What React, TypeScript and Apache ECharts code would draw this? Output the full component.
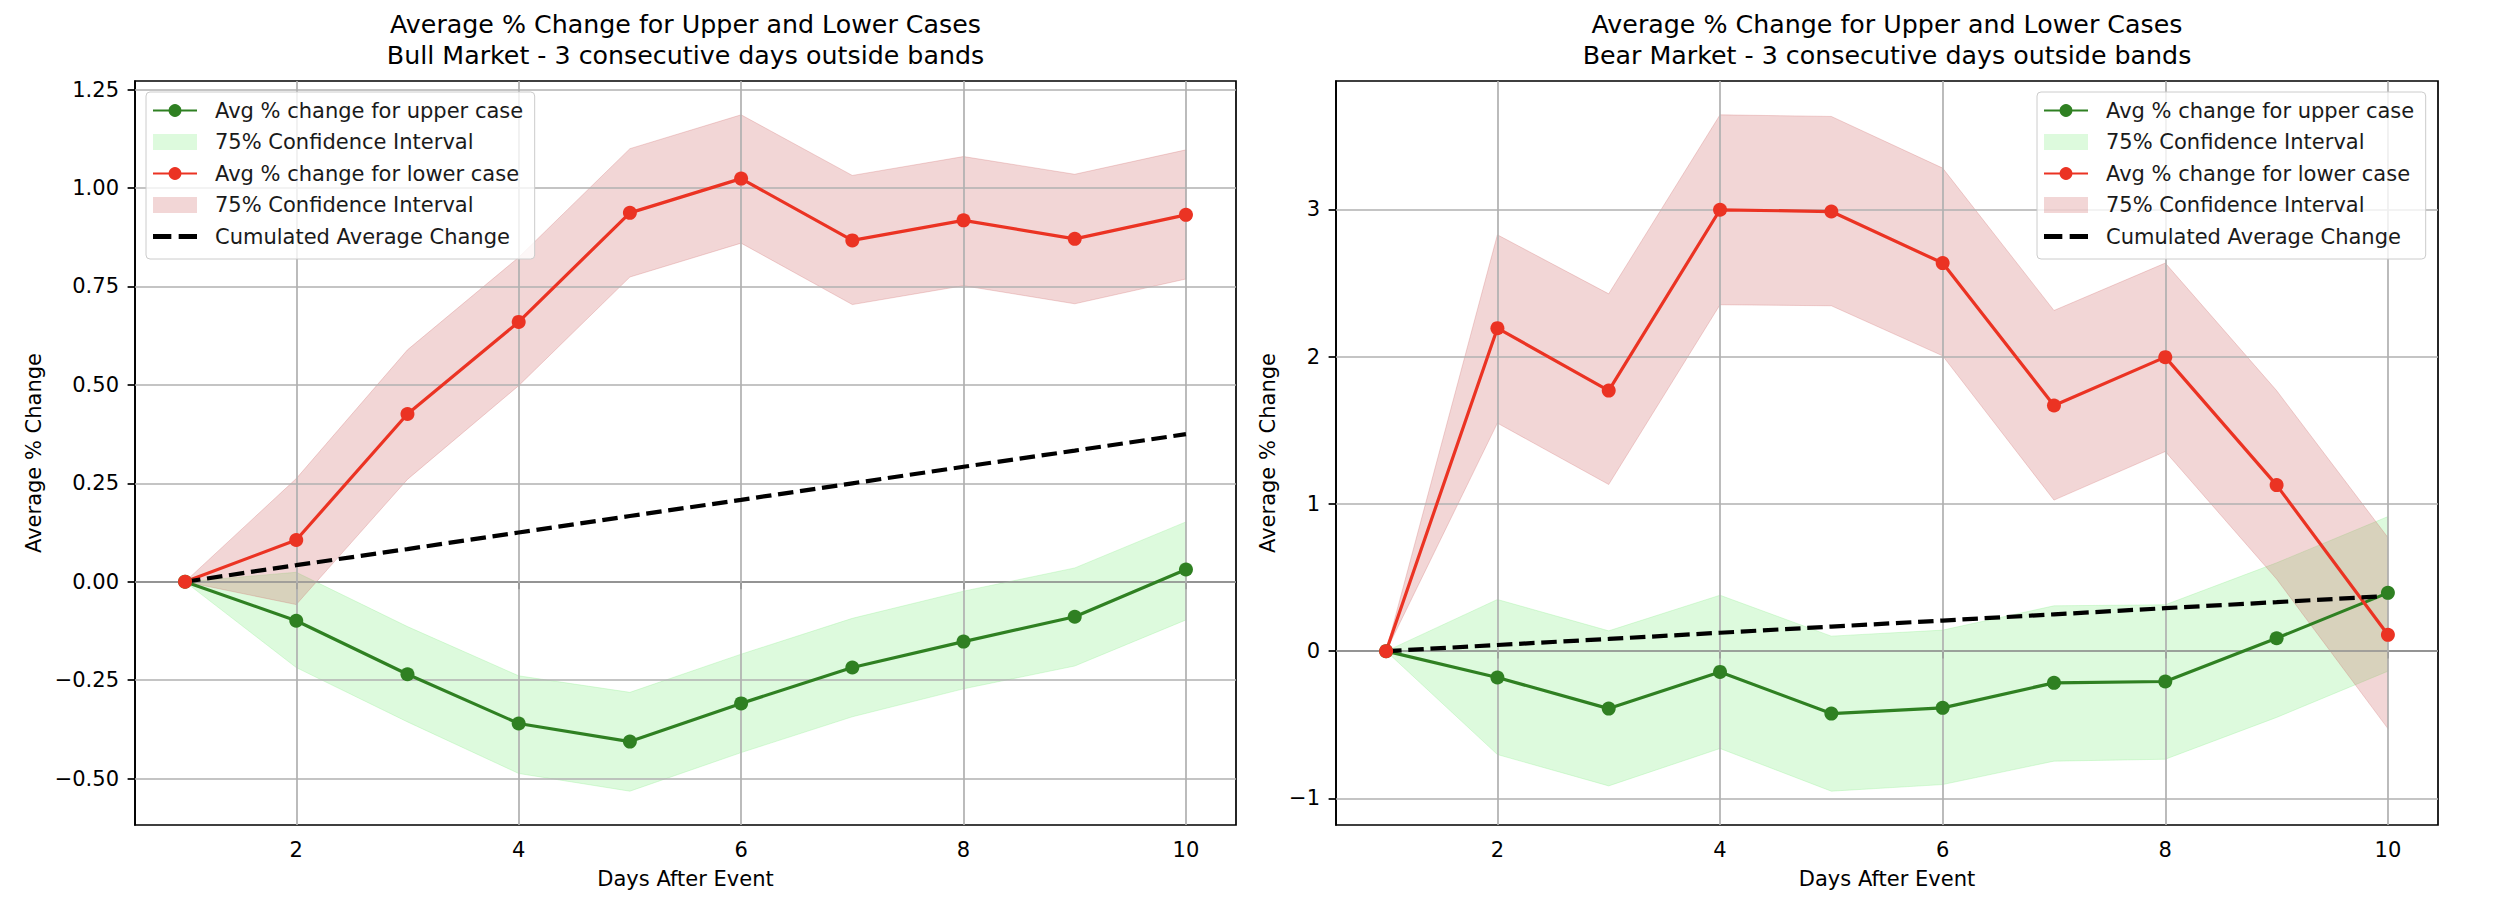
import React, { useEffect, useRef } from "react";
import * as echarts from "echarts";

const FONT = "DejaVu Sans";

const days = [1, 2, 3, 4, 5, 6, 7, 8, 9, 10];
const xTicks = [2, 4, 6, 8, 10];
const bullYTicks = [-0.5, -0.25, 0, 0.25, 0.5, 0.75, 1.0, 1.25];
const bearYTicks = [-1, 0, 1, 2, 3];

const bullUpper = [0, -0.099, -0.235, -0.36, -0.406, -0.309, -0.218, -0.152, -0.089, 0.031];
const bullUpperLo = [0, -0.218, -0.356, -0.487, -0.532, -0.434, -0.343, -0.272, -0.214, -0.097];
const bullUpperHi = [0, 0.024, -0.114, -0.239, -0.281, -0.184, -0.093, -0.024, 0.035, 0.152];
const bullLower = [0, 0.106, 0.426, 0.66, 0.937, 1.024, 0.867, 0.918, 0.871, 0.932];
const bullLowerLo = [0, -0.058, 0.26, 0.498, 0.774, 0.86, 0.704, 0.752, 0.706, 0.769];
const bullLowerHi = [0, 0.262, 0.589, 0.824, 1.1, 1.186, 1.032, 1.08, 1.035, 1.097];

const bearUpper = [0, -0.179, -0.39, -0.141, -0.424, -0.385, -0.215, -0.206, 0.088, 0.396];
const bearUpperLo = [0, -0.702, -0.915, -0.661, -0.951, -0.906, -0.747, -0.734, -0.45, -0.136];
const bearUpperHi = [0, 0.351, 0.138, 0.38, 0.102, 0.143, 0.308, 0.315, 0.6, 0.914];
const bearLower = [0, 2.194, 1.77, 2.998, 2.986, 2.636, 1.669, 1.997, 1.128, 0.111];
const bearLowerLo = [0, 1.549, 1.132, 2.353, 2.346, 2.006, 1.026, 1.356, 0.49, -0.526];
const bearLowerHi = [0, 2.828, 2.427, 3.643, 3.632, 3.281, 2.314, 2.636, 1.77, 0.772];

const cumulated = [0, 0.042, 0.083, 0.125, 0.167, 0.208, 0.25, 0.292, 0.333, 0.375];

const titleLine1 = "Average % Change for Upper and Lower Cases";
const bullTitle2 = "Bull Market - 3 consecutive days outside bands";
const bearTitle2 = "Bear Market - 3 consecutive days outside bands";

const legendLabels: Record<string, string> = {
  upLine: "Avg % change for upper case",
  upCI: "75% Confidence Interval",
  loLine: "Avg % change for lower case",
  loCI: "75% Confidence Interval",
  cum: "Cumulated Average Change",
};

const GREEN = "#2f8022";
const RED = "#eb3323";
const GREEN_FILL = "rgba(144,238,144,0.3)";
const RED_FILL = "rgba(205,92,92,0.25)";
const GRID_COLOR = "#b0b0b0";

const pairs = (vals: number[]) => days.map((d, i) => [d, vals[i]]);
const bandRows = (lo: number[], hi: number[]) => days.map((d, i) => [d, lo[i], hi[i]]);

function minus(s: string) {
  return s.replace("-", "\u2212");
}

function extent(arrs: number[][]) {
  const all = arrs.flat();
  const mn = Math.min(...all);
  const mx = Math.max(...all);
  const m = (mx - mn) * 0.05;
  return [mn - m, mx + m];
}

function bandSeries(name: string, gi: number, lo: number[], hi: number[], fill: string) {
  return {
    type: "custom",
    name,
    xAxisIndex: gi,
    yAxisIndex: gi,
    z: 1,
    silent: true,
    itemStyle: { color: fill },
    data: bandRows(lo, hi),
    encode: { x: 0, y: [1, 2] },
    renderItem: (params: any, api: any) => {
      if (params.dataIndex !== 0) return null;
      const bottom = days.map((d, i) => api.coord([d, lo[i]]));
      const top = days.map((d, i) => api.coord([d, hi[i]])).reverse();
      return {
        type: "polygon",
        shape: { points: [...bottom, ...top] },
        style: { fill, stroke: fill, lineWidth: 1 },
      };
    },
  };
}

function App() {
  const ref = useRef<HTMLDivElement>(null);

  useEffect(() => {
    if (!ref.current) return;
    const chart = echarts.init(ref.current, null, { renderer: "svg" });

    const panels = [
      {
        upper: bullUpper, upperLo: bullUpperLo, upperHi: bullUpperHi,
        lower: bullLower, lowerLo: bullLowerLo, lowerHi: bullLowerHi,
        yTicks: bullYTicks, decimals: 2, title2: bullTitle2,
        left: 135, width: 1101, nameGap: 91, legendLeft: 146,
      },
      {
        upper: bearUpper, upperLo: bearUpperLo, upperHi: bearUpperHi,
        lower: bearLower, lowerLo: bearLowerLo, lowerHi: bearLowerHi,
        yTicks: bearYTicks, decimals: 0, title2: bearTitle2,
        left: 1336, width: 1102, nameGap: 58, legendLeft: 2037,
      },
    ];

    const grid: any[] = [];
    const xAxis: any[] = [];
    const yAxis: any[] = [];
    const series: any[] = [];
    const legend: any[] = [];
    const graphic: any[] = [];

    panels.forEach((p, gi) => {
      grid.push({
        left: p.left, top: 81, width: p.width, height: 744,
        show: true, borderColor: "#000", borderWidth: 1.7, backgroundColor: "transparent",
      });
      const [ymin, ymax] = extent([p.upper, p.upperLo, p.upperHi, p.lower, p.lowerLo, p.lowerHi, cumulated]);
      xAxis.push({
        type: "value", gridIndex: gi, min: 0.55, max: 10.45,
        name: "Days After Event", nameLocation: "middle", nameGap: 43,
        nameTextStyle: { fontSize: 21, fontFamily: FONT, color: "#000" },
        axisLine: { show: true, lineStyle: { color: "#000", width: 1.7 } },
        axisTick: { show: true, length: 7.4, lineStyle: { color: "#000", width: 1.7 }, customValues: xTicks },
        axisLabel: { customValues: xTicks, fontSize: 21, fontFamily: FONT, color: "#000", margin: 14 },
        splitLine: { show: false },
      });
      yAxis.push({
        type: "value", gridIndex: gi, min: ymin, max: ymax,
        name: "Average % Change", nameLocation: "middle", nameGap: p.nameGap, nameRotate: 90,
        nameTextStyle: { fontSize: 21, fontFamily: FONT, color: "#000" },
        axisLine: { show: true, lineStyle: { color: "#000", width: 1.7 } },
        axisTick: { show: true, length: 7.4, lineStyle: { color: "#000", width: 1.7 }, customValues: p.yTicks },
        axisLabel: {
          customValues: p.yTicks, fontSize: 21, fontFamily: FONT, color: "#000", margin: 16,
          formatter: (v: number) => minus(v.toFixed(p.decimals)),
        },
        splitLine: { show: false },
      });

      const common = { xAxisIndex: gi, yAxisIndex: gi, animation: false };
      series.push(bandSeries("upCI", gi, p.upperLo, p.upperHi, GREEN_FILL));
      series.push(bandSeries("loCI", gi, p.lowerLo, p.lowerHi, RED_FILL));
      series.push({
        ...common, type: "line", name: "upLine", data: pairs(p.upper), z: 3,
        symbol: "circle", symbolSize: 14, showSymbol: true,
        lineStyle: { color: GREEN, width: 3.2 }, itemStyle: { color: GREEN },
      });
      series.push({
        ...common, type: "line", name: "loLine", data: pairs(p.lower), z: 3,
        symbol: "circle", symbolSize: 14, showSymbol: true,
        lineStyle: { color: RED, width: 3.2 }, itemStyle: { color: RED },
      });
      series.push({
        ...common, type: "line", name: "cum", data: pairs(cumulated), z: 3,
        symbol: "none",
        lineStyle: { color: "#000", width: 4.2, type: [15.5, 6.7] }, itemStyle: { color: "#000" },
        markLine: {
          z: 2, silent: true, symbol: ["none", "none"], label: { show: false },
          emphasis: { disabled: true },
          lineStyle: { color: GRID_COLOR, width: 1.7, type: "solid", opacity: 1 },
          data: [
            ...xTicks.map((v) => ({ xAxis: v })),
            ...p.yTicks.map((v) => ({ yAxis: v })),
          ],
        },
      });

      legend.push({
        left: p.legendLeft, top: 92, orient: "vertical",
        itemWidth: 44, itemHeight: 16, itemGap: 10.5,
        padding: [8, 11.5, 12, 6],
        backgroundColor: "rgba(255,255,255,0.8)", borderColor: "#cccccc", borderWidth: 1, borderRadius: 4,
        selectedMode: false,
        textStyle: { fontSize: 21, lineHeight: 21, fontFamily: FONT, color: "#1a1a1a", padding: [0, 0, 0, 13] },
        formatter: (n: string) => legendLabels[n] || n,
        data: [
          { name: "upLine" },
          { name: "upCI", icon: "rect", itemStyle: { color: GREEN_FILL, borderWidth: 0 } },
          { name: "loLine" },
          { name: "loCI", icon: "rect", itemStyle: { color: RED_FILL, borderWidth: 0 } },
          { name: "cum", icon: "path://M0,0H15V4H0Z M21,0H36V4H21Z", itemStyle: { color: "#000", borderWidth: 0 } },
        ],
      });

      const cx = p.left + p.width / 2;
      graphic.push({
        type: "text", x: cx, y: 24, z: 10,
        style: { text: titleLine1, fontSize: 25.3, fontFamily: FONT, fill: "#000", align: "center", verticalAlign: "middle" },
      });
      graphic.push({
        type: "text", x: cx, y: 55.5, z: 10,
        style: { text: p.title2, fontSize: 25.3, fontFamily: FONT, fill: "#000", align: "center", verticalAlign: "middle" },
      });
    });

    chart.setOption({
      animation: false,
      backgroundColor: "#ffffff",
      textStyle: { fontFamily: FONT },
      grid, xAxis, yAxis, series, legend, graphic,
    });

    return () => chart.dispose();
  }, []);

  return (
    <div
      ref={ref}
      style={{ position: "fixed", left: 0, top: 0, width: 2520, height: 904, background: "#fff" }}
    />
  );
}

export default App;
